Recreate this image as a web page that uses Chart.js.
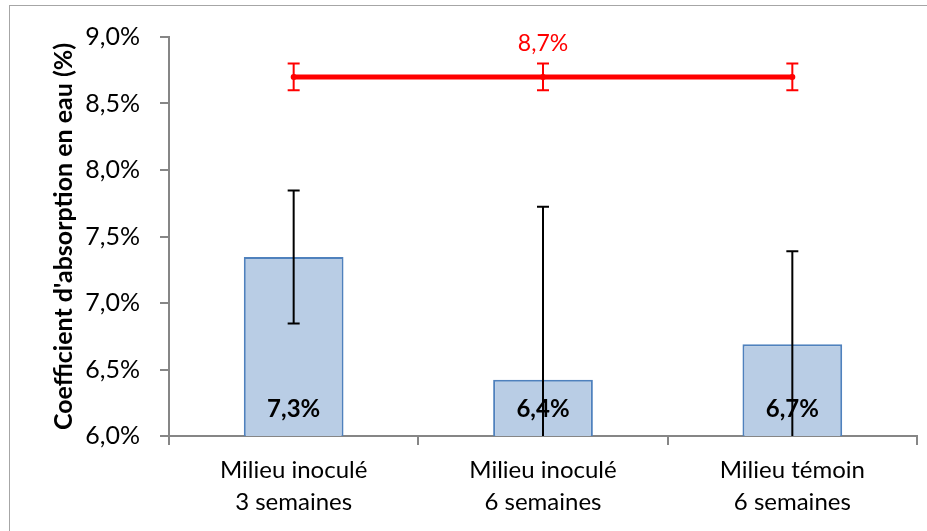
<!DOCTYPE html>
<html>
<head>
<meta charset="utf-8">
<script src="https://cdn.jsdelivr.net/npm/chart.js@4/dist/chart.umd.min.js"></script>
<style>
  html, body { margin: 0; padding: 0; background: #fff; }
  #wrap { position: relative; width: 927px; height: 531px; overflow: hidden; }
  #frame { position: absolute; left: 9px; top: 5px; width: 960px; height: 560px; border: 1px solid #a6a6a6; box-sizing: border-box; }
  canvas { position: absolute; left: 0; top: 0; }
</style>
</head>
<body>
<div id="wrap">
  <div id="frame"></div>
  <canvas id="c" width="927" height="531"></canvas>
</div>
<script>
const categories = [["Milieu inoculé", "3 semaines"], ["Milieu inoculé", "6 semaines"], ["Milieu témoin", "6 semaines"]];
const barValues = [7.346, 6.423, 6.69];
const barErrors = [0.5, 1.3, 0.7];
const barLabels = ["7,3%", "6,4%", "6,7%"];
const refValues = [8.7, 8.7, 8.7];
const refErrors = [0.1, 0.1, 0.1];
const refLabel = "8,7%";
const yMin = 6.0, yMax = 9.0, yStep = 0.5;
const yTitle = "Coefficient d'absorption en eau (%)";

const FONT = "Lato, 'Open Sans', sans-serif";
const axisGray = "#868686";

const overlay = {
  id: "overlay",
  afterDatasetsDraw(chart) {
    const ctx = chart.ctx;
    const y = chart.scales.y;
    const area = chart.chartArea;
    const barMeta = chart.getDatasetMeta(0);
    // bar labels
    ctx.save();
    ctx.font = "bold 24px " + FONT;
    ctx.fillStyle = "#000";
    ctx.textAlign = "center";
    ctx.textBaseline = "middle";
    barMeta.data.forEach((el, i) => {
      ctx.fillText(barLabels[i], el.x, y.bottom - 27);
    });
    ctx.restore();
    // error bars
    ctx.save();
    ctx.beginPath();
    ctx.rect(area.left, area.top - 20, area.right - area.left, area.bottom - area.top + 20);
    ctx.clip();
    const drawErr = (cx, v, e, color, cap) => {
      const yt = y.getPixelForValue(v + e), yb = y.getPixelForValue(v - e);
      ctx.strokeStyle = color;
      ctx.lineWidth = 2;
      ctx.beginPath();
      ctx.moveTo(cx, yt); ctx.lineTo(cx, yb);
      ctx.moveTo(cx - cap, yt); ctx.lineTo(cx + cap, yt);
      ctx.moveTo(cx - cap, yb); ctx.lineTo(cx + cap, yb);
      ctx.stroke();
    };
    barMeta.data.forEach((el, i) => drawErr(el.x, barValues[i], barErrors[i], "#000", 6));
    const refMeta = chart.getDatasetMeta(1);
    refMeta.data.forEach((el, i) => drawErr(el.x, refValues[i], refErrors[i], "#ff0000", 6));
    ctx.restore();
    // ref label
    ctx.save();
    ctx.font = "23px " + FONT;
    ctx.fillStyle = "#ff0000";
    ctx.textAlign = "center";
    ctx.textBaseline = "middle";
    const mid = refMeta.data[1];
    ctx.fillText(refLabel, mid.x, y.getPixelForValue(refValues[1]) - 33);
    ctx.restore();
  }
};

new Chart(document.getElementById("c"), {
  type: "bar",
  data: {
    labels: categories,
    datasets: [
      {
        type: "bar",
        data: barValues,
        backgroundColor: "#b9cde5",
        borderColor: "#4f81bd",
        borderWidth: 2,
        barPercentage: 0.4,
        categoryPercentage: 1.0,
        order: 2
      },
      {
        type: "line",
        data: refValues,
        borderColor: "#ff0000",
        backgroundColor: "#ff0000",
        borderWidth: 5,
        pointRadius: 3,
        pointBorderWidth: 0,
        fill: false,
        order: 1
      }
    ]
  },
  options: {
    responsive: false,
    animation: false,
    devicePixelRatio: 1,
    layout: { padding: { left: 45, right: 10, top: 37, bottom: 0 } },
    plugins: { legend: { display: false }, tooltip: { enabled: false } },
    scales: {
      x: {
        grid: { display: true, drawOnChartArea: false, drawTicks: true, tickLength: 9, color: axisGray, lineWidth: 2, offset: true },
        border: { display: true, color: axisGray, width: 2 },
        ticks: { color: "#000", font: { family: FONT, size: 24, lineHeight: 1.3 }, padding: 10, maxRotation: 0, autoSkip: false },
        afterFit(scale) { scale.height = 95; }
      },
      y: {
        min: yMin, max: yMax,
        grid: { display: true, drawOnChartArea: false, drawTicks: true, tickLength: 9, color: axisGray, lineWidth: 2 },
        border: { display: true, color: axisGray, width: 2 },
        ticks: {
          stepSize: yStep,
          color: "#000",
          font: { family: FONT, size: 25 },
          padding: 20,
          callback: (v) => v.toFixed(1).replace(".", ",") + "%"
        },
        title: { display: true, text: yTitle, color: "#000", font: { family: FONT, size: 25, weight: "bold" }, padding: { top: 4, bottom: 0 } },
        afterFit(scale) { scale.width = 124; }
      }
    }
  },
  plugins: [overlay]
});
</script>
</body>
</html>
